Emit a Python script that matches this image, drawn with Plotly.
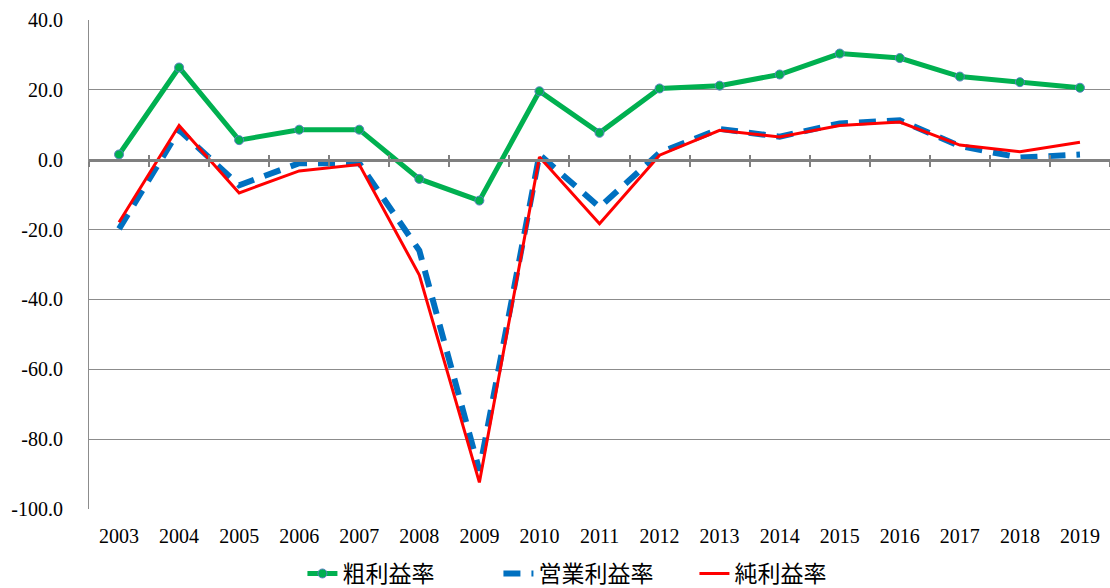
import plotly.graph_objects as go

years = [str(y) for y in range(2003, 2020)]
gross = [1.5, 26.4, 5.6, 8.6, 8.6, -5.5, -11.7, 19.6, 7.7, 20.4, 21.2, 24.4, 30.4, 29.1, 23.8, 22.2, 20.6]
operating = [-19.8, 8.5, -7.3, -1.0, -1.0, -26.0, -89.0, 1.5, -13.6, 2.0, 8.8, 6.6, 10.4, 11.3, 3.9, 0.6, 1.5]
net = [-17.9, 9.8, -9.5, -3.2, -1.4, -33.0, -92.4, 0.8, -18.3, 1.3, 8.4, 6.5, 9.8, 10.8, 4.2, 2.3, 5.0]
names = ["粗利益率", "営業利益率", "純利益率"]
yticks = [40, 20, 0, -20, -40, -60, -80, -100]
yticklabels = ["40.0", "20.0", "0.0", "-20.0", "-40.0", "-60.0", "-80.0", "-100.0"]

fig = go.Figure()
fig.add_trace(go.Scatter(x=years, y=gross, name=names[0], mode="lines+markers",
                         line=dict(color="#00B050", width=5),
                         marker=dict(size=9, color="#00B050", line=dict(color="#5B7FC4", width=1))))
fig.add_trace(go.Scatter(x=years, y=operating, name=names[1], mode="lines",
                         line=dict(color="#0070C0", width=6, dash="17px,11px")))
fig.add_trace(go.Scatter(x=years, y=net, name=names[2], mode="lines",
                         line=dict(color="#FF0000", width=3)))

boundaries = [i - 0.5 for i in range(len(years) + 1)]

fig.update_layout(
    width=1110, height=588,
    margin=dict(l=89, r=0, t=20, b=79, autoexpand=False),
    paper_bgcolor="white", plot_bgcolor="white",
    showlegend=True,
    legend=dict(orientation="h", x=0.497, xanchor="center", xref="paper",
                yref="paper", y=-0.088, yanchor="top",
                font=dict(family="Noto Sans CJK JP", size=23, color="#000000"),
                entrywidth=151, entrywidthmode="pixels", tracegroupgap=0),
    xaxis=dict(type="category", range=[-0.5, 16.5], showgrid=False, zeroline=False,
               showline=False, ticks="", tickfont=dict(family="Liberation Serif", size=20, color="#000000"),
               ticklabelstandoff=13),
    yaxis=dict(range=[-100, 40], tickmode="array", tickvals=yticks, ticktext=yticklabels,
               showgrid=True, gridcolor="#8C8C8C", gridwidth=1, zeroline=False, showline=True,
               linecolor="#8C8C8C", linewidth=1, ticks="",
               tickfont=dict(family="Liberation Serif", size=20, color="#000000"),
               ticklabelstandoff=21),
    xaxis2=dict(overlaying="x", anchor="free", position=100 / 140, range=[-0.5, 16.5],
                tickmode="array", tickvals=boundaries, showticklabels=False,
                ticks="outside", ticklen=5, tickwidth=2, tickcolor="#808080",
                showline=True, linecolor="#808080", linewidth=3, showgrid=False, zeroline=False),
    xaxis3=dict(overlaying="x", anchor="free", position=100 / 140, range=[-0.5, 16.5],
                tickmode="array", tickvals=boundaries, showticklabels=False,
                ticks="inside", ticklen=5, tickwidth=2, tickcolor="#808080",
                showline=False, showgrid=False, zeroline=False),
)
fig.add_trace(go.Scatter(x=[0], y=[None], xaxis="x2", showlegend=False, hoverinfo="skip"))
fig.add_trace(go.Scatter(x=[0], y=[None], xaxis="x3", showlegend=False, hoverinfo="skip"))

fig.write_html("out.html", config={"displayModeBar": False},
               post_script="document.body.style.margin='0';document.body.style.overflow='hidden';")
